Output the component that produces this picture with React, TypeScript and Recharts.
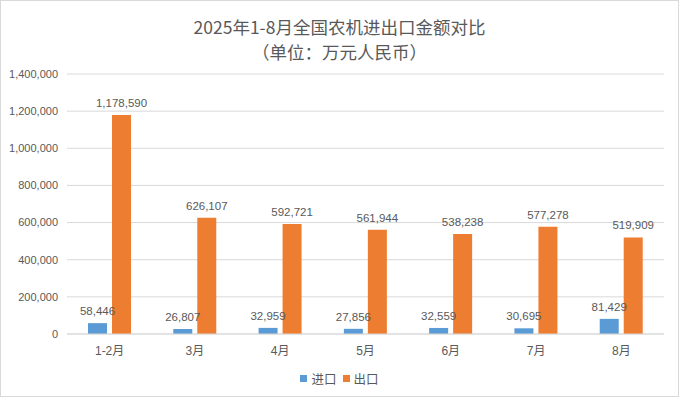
import React from 'react';
import { BarChart, Bar, XAxis, YAxis, CartesianGrid, LabelList } from 'recharts';

const MONTHS = ['1-2月', '3月', '4月', '5月', '6月', '7月', '8月'];
const IMPORTS = [58446, 26807, 32959, 27856, 32559, 30695, 81429];
const EXPORTS = [1178590, 626107, 592721, 561944, 538238, 577278, 519909];
const Y_TICKS = [0, 200000, 400000, 600000, 800000, 1000000, 1200000, 1400000];

const BLUE = '#5B9BD5';
const ORANGE = '#ED7D31';
const TEXT = '#595959';
const FONT = '"Liberation Sans", "Noto Sans CJK SC", sans-serif';

const data = MONTHS.map((m, i) => ({ name: m, imp: IMPORTS[i], exp: EXPORTS[i] }));

const fmt = (v: number) => v.toLocaleString('en-US');

export default function App() {
    return (
        <div style={{ position: 'absolute', left: 0, top: 0, width: 679, height: 397, background: '#fff', boxSizing: 'border-box', border: '1px solid #d9d9d9', fontFamily: FONT }}>
            <div style={{ position: 'absolute', top: 13, left: 0, width: 677, textAlign: 'center', color: TEXT, fontSize: 17.5, lineHeight: '25px', fontFamily: '"Noto Sans CJK SC", sans-serif' }}>
                <div>2025年1-8月全国农机进出口金额对比</div>
                <div>（单位：万元人民币）</div>
            </div>
            <div style={{ position: 'absolute', left: -1, top: -1 }}>
                <BarChart width={679} height={397} data={data} margin={{ top: 74, right: 15, left: 0, bottom: 33 }} barGap={5} barSize={19}>
                    <CartesianGrid vertical={false} stroke="#d9d9d9" />
                    <XAxis dataKey="name" height={30} tickSize={0} tickMargin={12} axisLine={{ stroke: '#d9d9d9' }} tick={{ fill: TEXT, fontSize: 12, fontFamily: FONT }} />
                    <YAxis width={67} domain={[0, 1400000]} ticks={Y_TICKS} tickSize={0} tickMargin={9} axisLine={false} tickFormatter={fmt} tick={{ fill: TEXT, fontSize: 11, fontFamily: FONT }} />
                    <Bar dataKey="imp" fill={BLUE} isAnimationActive={false}>
                        <LabelList dataKey="imp" position="top" offset={8} formatter={(v: any) => fmt(v)} style={{ fill: TEXT, fontSize: 11.5, fontFamily: FONT }} />
                    </Bar>
                    <Bar dataKey="exp" fill={ORANGE} isAnimationActive={false}>
                        <LabelList dataKey="exp" position="top" offset={8} formatter={(v: any) => fmt(v)} style={{ fill: TEXT, fontSize: 11.5, fontFamily: FONT }} />
                    </Bar>
                </BarChart>
            </div>
            {/* legend */}
            <div style={{ position: 'absolute', top: 368, left: 0, width: 677, display: 'flex', justifyContent: 'center', alignItems: 'center', color: TEXT, fontSize: 12.5, fontFamily: '"Noto Sans CJK SC", sans-serif' }}>
                <span style={{ display: 'inline-block', width: 7, height: 7, background: BLUE, marginRight: 4 }} />
                <span style={{ marginRight: 6 }}>进口</span>
                <span style={{ display: 'inline-block', width: 7, height: 7, background: ORANGE, marginRight: 4 }} />
                <span>出口</span>
            </div>
        </div>
    );
}
